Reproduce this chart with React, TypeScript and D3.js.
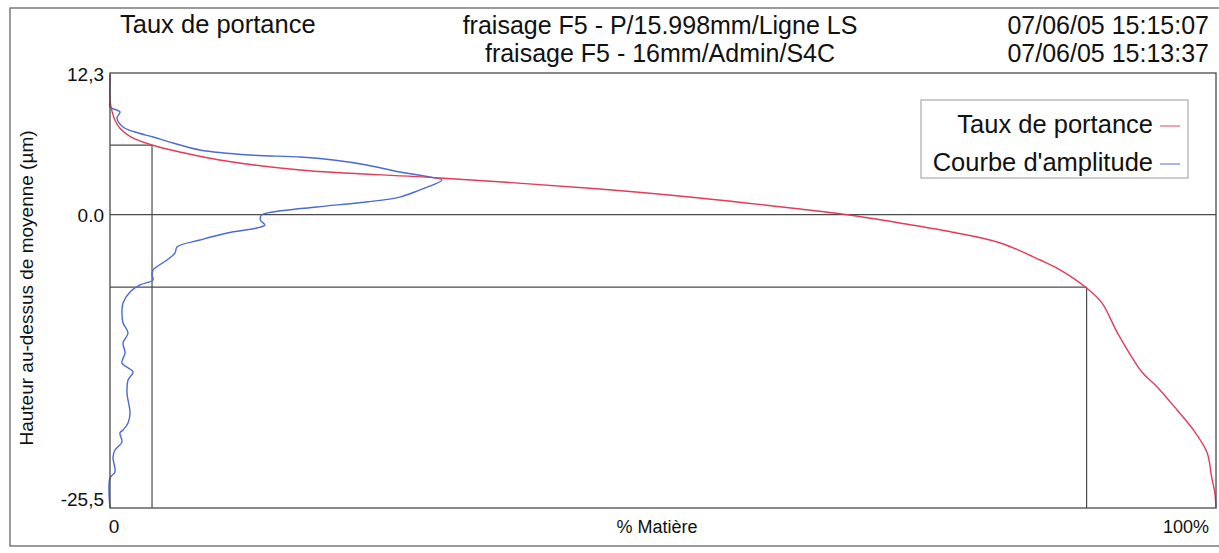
import React from "react";
import * as d3 from "d3";

// Bearing-ratio curve (Taux de portance): % matière vs height (µm)
const bearingPct = [0, 0, 0.2, 0.45, 0.9, 1.8, 3.8, 6.3, 9.9, 17.2, 29.8, 44.3, 53.3, 62.4, 66.5, 71.4, 76, 80.5, 84.1, 85.9, 88.3, 89.7, 91.1, 93.3, 94.7, 96.5, 98.1, 99.2, 99.6, 99.9, 100];
const bearingHeight = [12.2, 9.95, 8.9, 8.2, 7.5, 6.8, 6.04, 5.44, 4.74, 3.87, 3.18, 2.22, 1.44, 0.48, 0, -0.73, -1.5, -2.47, -3.95, -4.8, -6.38, -7.7, -10.3, -13.68, -15.0, -17.0, -18.9, -20.7, -22.8, -24.2, -25.5];

// Amplitude distribution curve (Courbe d'amplitude)
const amplitudePct = [0, 0, 0, 0.9, 0.63, 1.18, 2.26, 3.89, 5.7, 8.14, 12.66, 17.2, 20.2, 23.2, 26.2, 28.9, 30.0, 29.2, 28.0, 26.2, 23.2, 18.7, 14.7, 13.7, 13.6, 14.0, 13.3, 10.6, 8.14, 6.06, 5.88, 5.15, 3.89, 3.8, 3.89, 2.71, 1.81, 1.18, 1.08, 1.18, 1.63, 1.18, 1.36, 1.08, 2.08, 1.63, 1.54, 1.81, 1.63, 1.18, 0.9, 1.08, 0.45, 0.27, 0.45, 0, 0];
const amplitudeHeight = [12.21, 9.95, 9.35, 8.91, 8.39, 7.61, 7.17, 6.74, 6.22, 5.61, 5.17, 5.0, 4.74, 4.31, 3.7, 3.26, 3.0, 2.57, 2.13, 1.52, 1.09, 0.66, 0.22, -0.04, -0.47, -0.91, -1.17, -1.6, -2.21, -2.82, -3.34, -3.95, -4.82, -5.25, -5.69, -6.12, -6.73, -7.69, -8.56, -9.42, -10.29, -11.16, -12.03, -12.9, -13.68, -14.38, -15.51, -17.24, -18.11, -18.72, -18.98, -19.77, -20.46, -21.07, -22.37, -22.89, -25.5];

// Cut levels (heights) and their bearing ratios
const cutHeights = [6.04, -6.3];
const cutPcts = [3.8, 88.3];

const yDomain = [-25.5, 12.3];
const yTickValues = [12.3, 0, -25.5];
const yTickLabels = ["12,3", "0.0", "-25,5"];

const titleLeft = "Taux de portance";
const titleCenter = ["fraisage F5 - P/15.998mm/Ligne LS", "fraisage F5 - 16mm/Admin/S4C"];
const titleRight = ["07/06/05 15:15:07", "07/06/05 15:13:37"];
const legendLabels = ["Taux de portance", "Courbe d'amplitude"];
const seriesColors = ["#e23c5a", "#4a6bd0"];

const W = 1219;
const H = 553;
const FONT = "'Liberation Sans', Arial, sans-serif";

export default function App() {
  const left = 110, right = 1216, top = 73, bottom = 508;
  const x = d3.scaleLinear().domain([0, 100]).range([left, right]);
  const y = d3.scaleLinear().domain(yDomain).range([bottom, top]);

  const line = d3
    .line<[number, number]>()
    .x((d) => x(d[0]))
    .y((d) => y(d[1]))
    .curve(d3.curveCatmullRom.alpha(0.5));

  const red = bearingPct.map((p, i) => [p, bearingHeight[i]] as [number, number]);
  const blue = amplitudePct.map((p, i) => [p, amplitudeHeight[i]] as [number, number]);

  const gridColor = "#4a4a4a";

  return (
    <svg
      width={W}
      height={H}
      style={{ position: "fixed", left: 0, top: 0, background: "#fff" }}
      fontFamily={FONT}
    >
      <rect x={0} y={0} width={W} height={H} fill="#fff" />
      {/* outer frame */}
      <rect x={10} y={8} width={1212} height={538} fill="none" stroke="#666" strokeWidth={1.3} />

      {/* header */}
      <text x={120} y={33} fontSize={25.5} fill="#111">{titleLeft}</text>
      {titleCenter.map((t, i) => (
        <text key={t} x={660} y={34 + i * 28} fontSize={25} textAnchor="middle" fill="#111">{t}</text>
      ))}
      {titleRight.map((t, i) => (
        <text key={t} x={1209} y={34 + i * 28} fontSize={25} textAnchor="end" fill="#111">{t}</text>
      ))}

      {/* zero line */}
      <line x1={x(0)} x2={x(100)} y1={y(0)} y2={y(0)} stroke={gridColor} strokeWidth={1.2} />
      {/* cut level lines */}
      {cutHeights.map((h, i) => (
        <g key={i}>
          <line x1={x(0)} x2={x(cutPcts[i])} y1={y(h)} y2={y(h)} stroke={gridColor} strokeWidth={1.2} />
          <line x1={x(cutPcts[i])} x2={x(cutPcts[i])} y1={y(h)} y2={y(yDomain[0])} stroke={gridColor} strokeWidth={1.2} />
        </g>
      ))}

      {/* curves */}
      <path d={line(blue) || ""} fill="none" stroke={seriesColors[1]} strokeWidth={1.4} />
      <path d={line(red) || ""} fill="none" stroke={seriesColors[0]} strokeWidth={1.4} />

      {/* plot border */}
      <rect x={left} y={top} width={right - left} height={bottom - top} fill="none" stroke={gridColor} strokeWidth={1.3} />

      {/* y tick labels */}
      {yTickValues.map((v, i) => (
        <text key={i} x={104} y={y(v) + (i === 0 ? 8 : i === 2 ? -2 : 7)} fontSize={19} textAnchor="end" fill="#111">
          {yTickLabels[i]}
        </text>
      ))}
      {/* x labels */}
      <text x={x(0) + 4} y={533} fontSize={19} textAnchor="middle" fill="#111">0</text>
      <text x={657} y={533} fontSize={18} textAnchor="middle" fill="#111">% Matière</text>
      <text x={1209} y={533} fontSize={18} textAnchor="end" fill="#111">100%</text>

      {/* y axis title */}
      <text
        transform={`translate(33,288) rotate(-90)`}
        fontSize={19}
        textAnchor="middle"
        fill="#111"
      >
        Hauteur au-dessus de moyenne (µm)
      </text>

      {/* legend */}
      <rect x={921} y={100} width={267} height={78} fill="#fff" stroke="#999" strokeWidth={1} />
      {legendLabels.map((l, i) => (
        <g key={l}>
          <text x={1153} y={133 + i * 38} fontSize={25.5} textAnchor="end" fill="#111">{l}</text>
          <line x1={1160} x2={1180} y1={126 + i * 38} y2={126 + i * 38} stroke={seriesColors[i]} strokeWidth={1.2} opacity={0.8} />
        </g>
      ))}
    </svg>
  );
}
